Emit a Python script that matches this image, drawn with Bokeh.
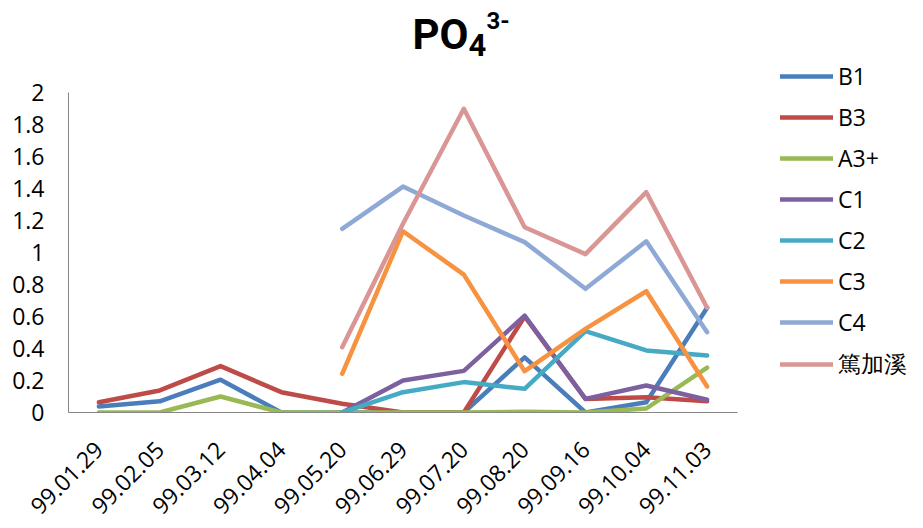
import math
import numpy as np
from bokeh.plotting import figure
from bokeh.models import Range1d, FixedTicker, Label
from bokeh.embed import file_html
from bokeh.resources import INLINE

nan = np.nan
dates = ["99.01.29", "99.02.05", "99.03.12", "99.04.04", "99.05.20", "99.06.29",
         "99.07.20", "99.08.20", "99.09.16", "99.10.04", "99.11.03"]

series_names = ["B1", "B3", "A3+", "C1", "C2", "C3", "C4", "篤加溪"]
B1 = [0.037, 0.07, 0.205, 0.0, 0.0, 0.0, 0.0, 0.345, 0.0, 0.064, 0.655]
B3 = [0.064, 0.138, 0.29, 0.127, 0.055, 0.0, 0.0, 0.60, 0.085, 0.096, 0.07]
A3 = [0.0, 0.0, 0.10, 0.0, 0.0, 0.0, 0.0, 0.005, 0.0, 0.025, 0.28]
C1 = [nan, nan, nan, nan, 0.0, 0.20, 0.26, 0.605, 0.085, 0.169, 0.08]
C2 = [nan, nan, nan, nan, 0.0, 0.127, 0.19, 0.148, 0.508, 0.388, 0.356]
C3 = [nan, nan, nan, nan, 0.242, 1.133, 0.862, 0.258, 0.523, 0.758, 0.162]
C4 = [nan, nan, nan, nan, 1.148, 1.412, 1.231, 1.065, 0.773, 1.07, 0.502]
DJX = [nan, nan, nan, nan, 0.408, 1.18, 1.898, 1.158, 0.99, 1.377, 0.655]
all_series = [B1, B3, A3, C1, C2, C3, C4, DJX]
colors = ["#4A7EBB", "#BE4B48", "#98B954", "#7D60A0", "#46AAC5", "#F69240", "#8EA9D6", "#D99694"]

y_ticks = [0, 0.2, 0.4, 0.6, 0.8, 1, 1.2, 1.4, 1.6, 1.8, 2]
y_labels = ["0", "0.2", "0.4", "0.6", "0.8", "1", "1.2", "1.4", "1.6", "1.8", "2"]

FONT = "Open Sans"
TFONT = "Roboto"

xi = list(range(len(dates)))

p = figure(width=923, height=528, title=None,
           x_range=Range1d(-0.5, 13.558), y_range=Range1d(0, 2.575),
           output_backend="svg", toolbar_location=None,
           min_border_left=68, min_border_right=0, min_border_top=0, min_border_bottom=116)
p.outline_line_color = None
p.xgrid.grid_line_color = None
p.ygrid.grid_line_color = None

for name, vals, col in zip(series_names, all_series, colors):
    p.line(x=xi, y=vals, line_color=col, line_width=4.5, legend_label=name,
           line_join="round", line_cap="round")

p.yaxis.ticker = FixedTicker(ticks=y_ticks)
p.yaxis.major_label_overrides = {t: l for t, l in zip(y_ticks, y_labels)}
p.yaxis.bounds = (0, 2)
p.xaxis.ticker = FixedTicker(ticks=xi)
p.xaxis.major_label_overrides = {i: d for i, d in zip(xi, dates)}
p.xaxis.bounds = (-0.5, len(dates) - 0.5)
for ax in (p.xaxis, p.yaxis):
    ax.axis_line_color = "#868686"
    ax.major_tick_line_color = None
    ax.minor_tick_line_color = None
    ax.major_label_text_font = FONT
    ax.major_label_text_font_size = "23px"
    ax.major_label_text_color = "#000000"
p.yaxis.major_tick_out = 0
p.yaxis.major_label_standoff = 24
p.xaxis.major_tick_out = 0
p.xaxis.major_label_orientation = math.pi / 4
p.xaxis.major_label_standoff = 33

lg = p.legend[0]
lg.location = (712, 32)
lg.border_line_color = None
lg.background_fill_alpha = 0
lg.padding = 0
lg.margin = 0
lg.glyph_width = 53
lg.glyph_height = 32
lg.label_height = 32
lg.spacing = 9
lg.label_standoff = 5
lg.label_text_font = FONT
lg.label_text_font_size = "23px"
lg.label_text_color = "#000000"

# Title PO4^3- as pieces (screen units, relative to the frame's bottom-left)
p.add_layout(Label(x=344, y=378, x_units="screen", y_units="screen",
                   text="PO", text_font=TFONT, text_font_style="bold", text_font_size="42px",
                   text_color="#000000", text_baseline="alphabetic"))
p.add_layout(Label(x=400, y=368, x_units="screen", y_units="screen",
                   text="4", text_font=TFONT, text_font_style="bold", text_font_size="31px",
                   text_color="#000000", text_baseline="alphabetic"))
p.add_layout(Label(x=418, y=392, x_units="screen", y_units="screen",
                   text="3-", text_font=TFONT, text_font_style="bold", text_font_size="24px",
                   text_color="#000000", text_baseline="alphabetic"))

open("out.html", "w").write(file_html(p, INLINE))
